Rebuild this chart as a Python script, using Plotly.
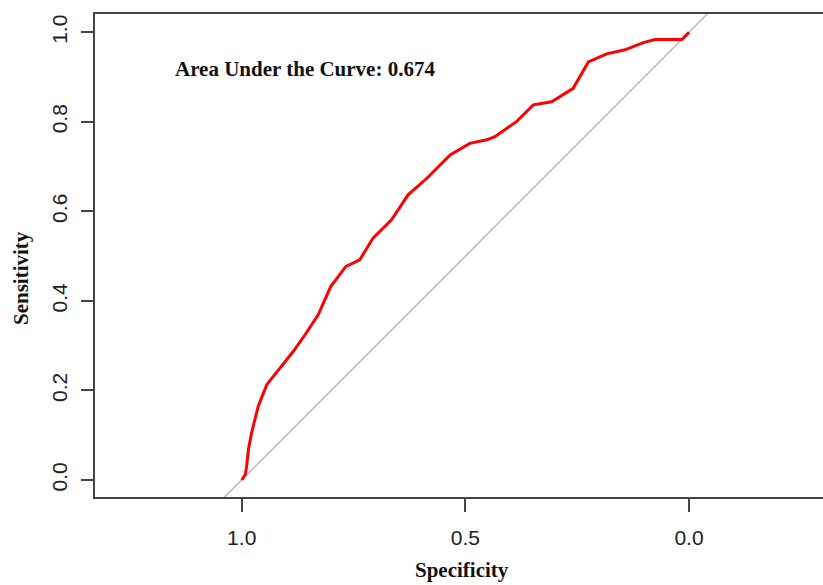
import plotly.graph_objects as go

# ROC curve points (specificity, sensitivity)
specificity = [1.000, 0.992, 0.989, 0.985, 0.978, 0.963, 0.944, 0.914, 0.885,
               0.858, 0.829, 0.801, 0.767, 0.736, 0.706, 0.665, 0.628, 0.586,
               0.534, 0.490, 0.452, 0.434, 0.385, 0.348, 0.307, 0.259, 0.225,
               0.184, 0.143, 0.102, 0.076, 0.016, 0.000]
sensitivity = [0.000, 0.012, 0.031, 0.068, 0.105, 0.165, 0.213, 0.250, 0.287,
               0.325, 0.369, 0.432, 0.477, 0.492, 0.541, 0.581, 0.637, 0.674,
               0.726, 0.752, 0.760, 0.767, 0.801, 0.838, 0.845, 0.875, 0.934,
               0.952, 0.961, 0.977, 0.984, 0.984, 1.000]

auc_value = 0.674
x_ticks = [1.0, 0.5, 0.0]
x_tick_labels = ["1.0", "0.5", "0.0"]
y_ticks = [0.0, 0.2, 0.4, 0.6, 0.8, 1.0]
y_tick_labels = ["0.0", "0.2", "0.4", "0.6", "0.8", "1.0"]

x_range = [1.328, -0.2996]
y_range = [-0.038, 1.041]

fig = go.Figure()

# chance diagonal (sensitivity = 1 - specificity), clipped by the plot area
diag_x = [x_range[0] + 0.2, x_range[1] - 0.2]
diag_y = [1 - v for v in diag_x]
fig.add_trace(go.Scatter(x=diag_x, y=diag_y, mode="lines",
                         line=dict(color="#bdbdbd", width=1.6),
                         hoverinfo="skip", showlegend=False))

fig.add_trace(go.Scatter(x=specificity, y=sensitivity, mode="lines",
                         line=dict(color="#ff0000", width=3),
                         showlegend=False))

fig.update_xaxes(range=x_range, tickvals=x_ticks, ticktext=x_tick_labels,
                 ticks="outside", ticklen=13, tickwidth=1.5, tickcolor="#444",
                 showline=True, linecolor="#444", linewidth=2, mirror=True,
                 showgrid=False, zeroline=False, ticklabelstandoff=8,
                 tickfont=dict(family="Liberation Sans", size=21, color="#222"))
fig.update_yaxes(range=y_range, tickvals=y_ticks, ticktext=y_tick_labels,
                 ticks="outside", ticklen=12, tickwidth=1.5, tickcolor="#444",
                 showline=True, linecolor="#444", linewidth=2, mirror=False,
                 showgrid=False, zeroline=False, tickangle=-90,
                 ticklabelstandoff=6,
                 tickfont=dict(family="Liberation Sans", size=21, color="#222"))

W, H = 823, 585
L, R, T, B = 95, 0, 14, 88
pw, ph = W - L - R, H - T - B


def px_x(px):
    return (px - L) / pw


def px_y(py):
    return (H - B - py) / ph


fig.add_annotation(x=px_x(173), y=px_y(69), xref="paper", yref="paper",
                   text=f"<b>Area Under the Curve: {auc_value}</b>", showarrow=False,
                   xanchor="left", yanchor="middle",
                   font=dict(family="Liberation Serif", size=21, color="#111"))
fig.add_annotation(x=px_x(462), y=px_y(570), xref="paper", yref="paper",
                   text="<b>Specificity</b>", showarrow=False,
                   xanchor="center", yanchor="middle",
                   font=dict(family="Liberation Serif", size=21, color="#111"))
fig.add_annotation(x=px_x(21), y=px_y(278), xref="paper", yref="paper",
                   text="<b>Sensitivity</b>", showarrow=False, textangle=-90,
                   xanchor="center", yanchor="middle",
                   font=dict(family="Liberation Serif", size=21, color="#111"))

fig.update_layout(width=W, height=H, margin=dict(l=L, r=R, t=T, b=B),
                  plot_bgcolor="white", paper_bgcolor="white")

fig.write_html("out.html")
